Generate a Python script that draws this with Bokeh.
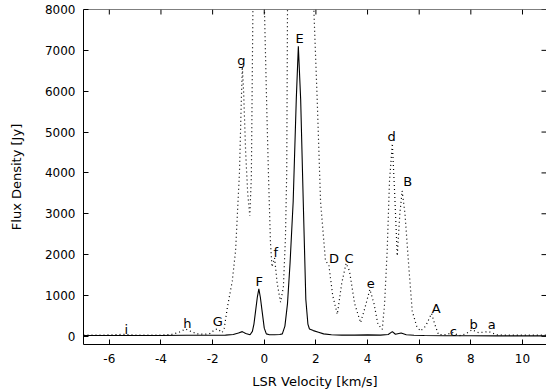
import math
from bokeh.plotting import figure
from bokeh.models import Range1d, FixedTicker, ColumnDataSource, Span
from bokeh.core.properties import value
from bokeh.embed import file_html
from bokeh.resources import INLINE

# Solid spectrum (velocity km/s, flux Jy)
solid_v = [-7.0, -6.0, -5.0, -4.0, -3.0, -2.0, -1.5, -1.2, -1.0, -0.85, -0.72, -0.55,
           -0.46, -0.40, -0.34, -0.27, -0.21, -0.15, -0.08, 0.0, 0.08, 0.2, 0.4, 0.6,
           0.70, 0.80, 0.90, 1.00, 1.12, 1.24, 1.32, 1.41, 1.51, 1.61, 1.69, 1.75, 1.9,
           2.1, 2.3, 2.6, 3.0, 3.5, 4.0, 4.5, 4.8, 4.96, 5.08, 5.3, 5.5, 5.8, 6.2, 7.0,
           8.0, 9.0, 10.0, 11.0]
solid_flux = [20, 20, 20, 20, 25, 25, 30, 45, 80, 115, 70, 40,
              120, 300, 600, 950, 1160, 950, 600, 200, 60, 40, 40, 45,
              60, 250, 800, 1800, 3300, 5800, 7100, 5800, 3300, 900, 300, 180, 140,
              100, 60, 40, 30, 30, 35, 30, 45, 115, 50, 80, 40, 25, 20, 15,
              15, 10, 10, 10]

# Dotted spectrum (velocity km/s, flux Jy); rises off scale near 0 and 1.3 km/s
dot_v = [-7.0, -6.5, -6.0, -5.4, -5.0, -4.5, -4.0, -3.6, -3.3, -3.05, -2.8, -2.6,
         -2.3, -2.1, -1.9, -1.8, -1.63, -1.55, -1.43, -1.24, -1.11, -1.02, -0.96,
         -0.9, -0.85, -0.8, -0.72, -0.64, -0.56, -0.5, -0.44, -0.25, 0.0, 0.1, 0.17,
         0.24, 0.3, 0.4, 0.5, 0.63, 0.74, 0.82, 0.87, 0.9, 1.3, 1.92, 2.05, 2.18,
         2.37, 2.5, 2.65, 2.83, 3.0, 3.17, 3.3, 3.5, 3.73, 3.9, 4.09, 4.25, 4.4,
         4.57, 4.66, 4.76, 4.85, 4.96, 5.05, 5.15, 5.25, 5.34, 5.45, 5.6, 5.73, 5.9,
         6.05, 6.25, 6.48, 6.6, 6.75, 7.0, 7.3, 7.55, 7.8, 8.05, 8.3, 8.7, 9.0,
         9.5, 10.0, 10.5, 11.0]
dot_flux = [30, 30, 35, 50, 30, 30, 30, 45, 100, 180, 110, 60,
            50, 70, 170, 180, 90, 200, 700, 1350, 2100, 3250, 4000,
            5500, 6600, 6000, 4500, 3500, 2950, 3900, 8000, 14000, 8200, 5500, 3800,
            2300, 1700, 1920, 1300, 835, 1200, 2400, 4000, 8000, 20000, 8000, 5800, 3300,
            1850, 1750, 1000, 540, 1300, 1790, 1600, 800, 335, 700, 1150, 800, 300,
            170, 800, 2090, 3800, 4720, 3500, 1970, 3000, 3560, 3000, 1680, 620, 250,
            130, 250, 560, 300, 40, 40, 90, 15, 60, 160, 90, 115, 35,
            30, 30, 30, 30]

# Peak labels
label_text = ["i", "h", "G", "g", "F", "f", "E", "D", "C", "e", "d", "B", "A", "c", "b", "a"]
label_v = [-5.34, -2.98, -1.8, -0.89, -0.19, 0.45, 1.37, 2.7, 3.28, 4.12, 4.93, 5.56,
           6.66, 7.32, 8.11, 8.81]
label_flux = [160, 310, 360, 6750, 1330, 2060, 7300, 1910, 1910, 1290, 4890, 3790,
              680, 120, 290, 290]

x_ticks = [-6, -4, -2, 0, 2, 4, 6, 8, 10]
x_tick_labels = ["-6", "-4", "-2", "0", "2", "4", "6", "8", "10"]
y_ticks = [0, 1000, 2000, 3000, 4000, 5000, 6000, 7000, 8000]

X_START, X_END = -7, 10.93
Y_START, Y_END = -200, 8000

FONT = "DejaVu Sans"

p = figure(width=546, height=392, x_range=Range1d(X_START, X_END),
           y_range=Range1d(Y_START, Y_END),
           output_backend="svg", toolbar_location=None,
           min_border_left=83, min_border_right=0, min_border_top=9, min_border_bottom=48,
           x_axis_label="LSR Velocity [km/s]", y_axis_label="Flux Density [Jy]")
p.outline_line_color = None
p.xgrid.visible = False
p.ygrid.visible = False
p.background_fill_color = "white"
p.border_fill_color = "white"

for ax in (p.xaxis[0], p.yaxis[0]):
    ax.major_tick_in = 5
    ax.major_tick_out = 0
    ax.minor_tick_line_color = None
    ax.axis_line_color = "black"
    ax.major_tick_line_color = "black"
    ax.major_label_text_font = FONT
    ax.major_label_text_font_size = "12px"
    ax.major_label_text_color = "black"
    ax.axis_label_text_font = FONT
    ax.axis_label_text_font_size = "13px"
    ax.axis_label_text_font_style = "normal"
    ax.axis_label_text_color = "black"

p.xaxis[0].ticker = FixedTicker(ticks=x_ticks)
p.xaxis[0].major_label_overrides = {t: s for t, s in zip(x_ticks, x_tick_labels)}
p.xaxis[0].major_label_standoff = 9
p.xaxis[0].axis_label_standoff = 8
p.yaxis[0].ticker = FixedTicker(ticks=y_ticks)
p.yaxis[0].major_label_standoff = 8
p.yaxis[0].axis_label_standoff = 18

# top border and inward mirror ticks on top and right edges
p.add_layout(Span(location=Y_END, dimension="width", line_color="black", line_width=1))
p.ray(x=x_ticks, y=[Y_END] * len(x_ticks), length=5, length_units="screen",
      angle=-math.pi / 2, line_color="black", line_width=1)
p.ray(x=[X_END] * len(y_ticks), y=y_ticks, length=5, length_units="screen",
      angle=math.pi, line_color="black", line_width=1)

src_s = ColumnDataSource(dict(v=solid_v, f=solid_flux))
src_d = ColumnDataSource(dict(v=dot_v, f=dot_flux))
p.line("v", "f", source=src_d, line_color="black", line_width=1.2, line_dash="1 3")
p.line("v", "f", source=src_s, line_color="black", line_width=1.1)

src_l = ColumnDataSource(dict(v=label_v, f=label_flux, t=label_text))
p.text("v", "f", text="t", source=src_l, text_font=value(FONT), text_font_size="13px",
       text_align="center", text_baseline="alphabetic", text_color="black")

open("out.html", "w").write(file_html(p, INLINE))
